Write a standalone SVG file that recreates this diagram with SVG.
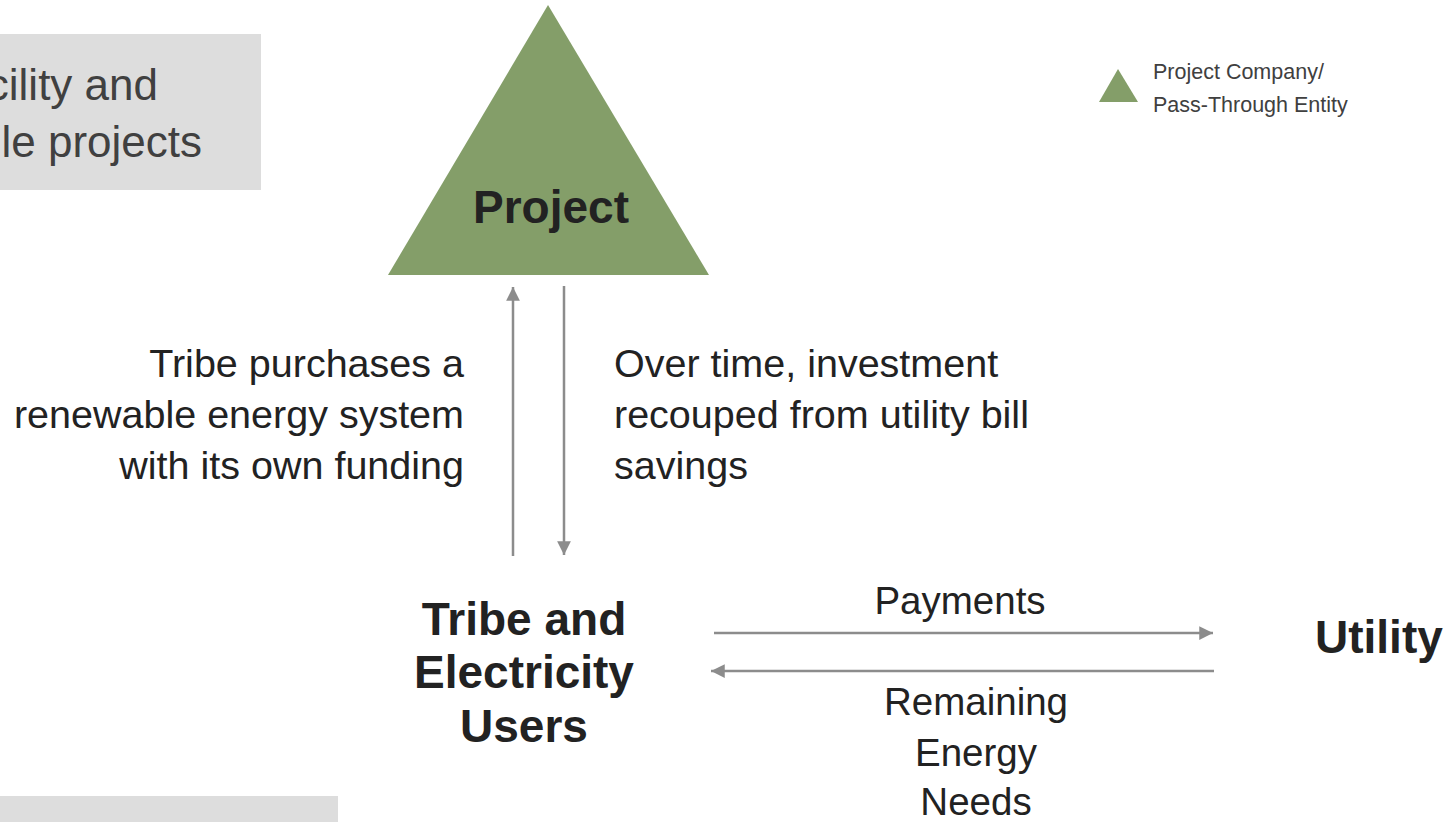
<svg xmlns="http://www.w3.org/2000/svg" width="1456" height="822" viewBox="0 0 1456 822">
<defs>
<style>
.t{font-family:"Liberation Sans",Arial,sans-serif;fill:#222}
.lbl{font-size:38.5px}
.desc{font-size:39.5px}
.big{font-size:46px;font-weight:bold}
.gry{fill:#404040}
.ln{stroke:#8c8c8c;stroke-width:2.5;fill:none}
</style>
<marker id="ah" viewBox="0 0 10 10" refX="10" refY="5" markerWidth="5.5" markerHeight="5.5" markerUnits="strokeWidth" orient="auto">
<path d="M0,0 L10,5 L0,10 z" fill="#8c8c8c"/>
</marker>
</defs>
<rect width="1456" height="822" fill="#fff"/>
<g id="box-top">
<rect x="0" y="34" width="261" height="156" fill="#dddddd"/>
<text class="t gry" x="158" y="100" text-anchor="end" font-size="44">cility and</text>
<text class="t gry" x="202" y="157" text-anchor="end" font-size="44">le projects</text>
</g>
<g id="box-bottom">
<rect x="0" y="796" width="338" height="26" fill="#dddddd"/>
</g>
<g id="project">
<polygon points="548,5 388,275 709,275" fill="#849e69"/>
<text class="t big" x="551" y="223" text-anchor="middle">Project</text>
</g>
<g id="legend">
<polygon points="1118,69 1099,102 1138,102" fill="#849e69"/>
<text class="t gry" x="1153" y="79" font-size="21.5">Project Company/</text>
<text class="t gry" x="1153" y="112" font-size="21.5">Pass-Through Entity</text>
</g>
<g id="tribe">
<text class="t big" x="524" y="635" text-anchor="middle">Tribe and</text>
<text class="t big" x="524" y="688" text-anchor="middle">Electricity</text>
<text class="t big" x="524" y="742" text-anchor="middle">Users</text>
</g>
<g id="utility">
<text class="t big" x="1315" y="653">Utility</text>
</g>
<g id="connectors">
<line class="ln" x1="513" y1="556" x2="513" y2="287" marker-end="url(#ah)"/>
<line class="ln" x1="564" y1="286" x2="564" y2="555" marker-end="url(#ah)"/>
<line class="ln" x1="714" y1="633" x2="1213" y2="633" marker-end="url(#ah)"/>
<line class="ln" x1="1214" y1="671" x2="711" y2="671" marker-end="url(#ah)"/>
</g>
<g id="labels">
<text class="t desc" x="464" y="377" text-anchor="end">Tribe purchases a</text>
<text class="t desc" x="464" y="428" text-anchor="end">renewable energy system</text>
<text class="t desc" x="464" y="479" text-anchor="end">with its own funding</text>
<text class="t desc" x="614" y="377">Over time, investment</text>
<text class="t desc" x="614" y="428">recouped from utility bill</text>
<text class="t desc" x="614" y="479">savings</text>
<text class="t lbl" x="960" y="614" text-anchor="middle">Payments</text>
<text class="t lbl" x="976" y="715" text-anchor="middle">Remaining</text>
<text class="t lbl" x="976" y="766" text-anchor="middle">Energy</text>
<text class="t lbl" x="976" y="815" text-anchor="middle">Needs</text>
</g>
</svg>
